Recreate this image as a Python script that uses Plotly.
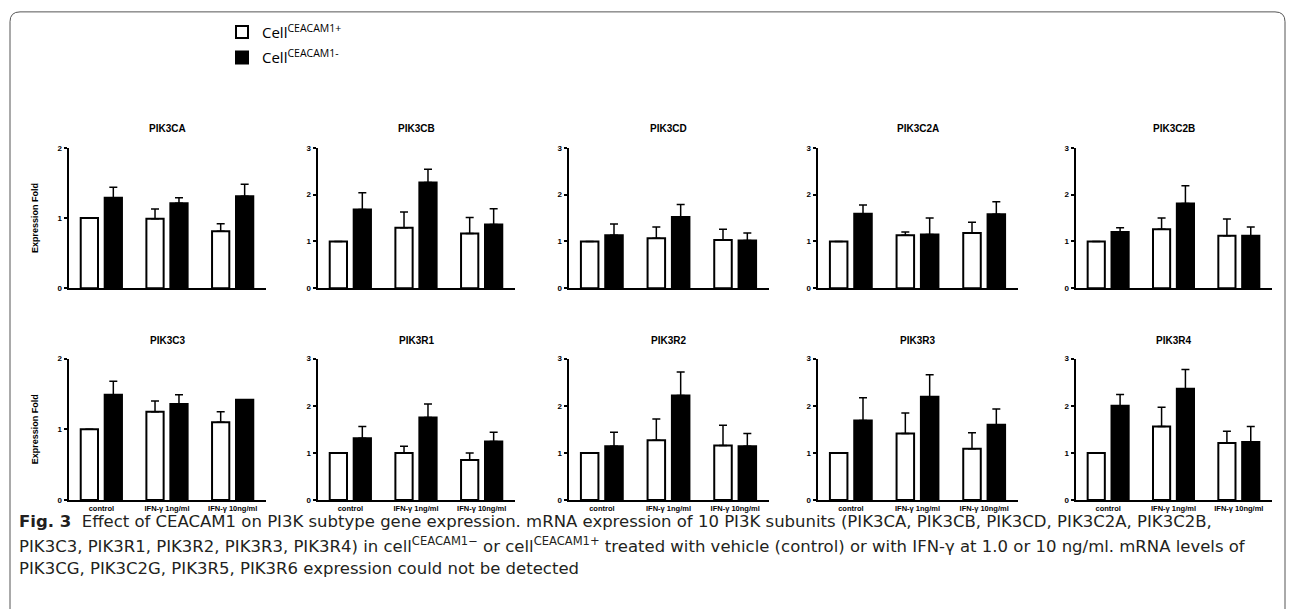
import plotly.graph_objects as go

W, H = 1295, 609

genes = ["PIK3CA", "PIK3CB", "PIK3CD", "PIK3C2A", "PIK3C2B",
         "PIK3C3", "PIK3R1", "PIK3R2", "PIK3R3", "PIK3R4"]
treatments = ["control", "IFN-γ 1ng/ml", "IFN-γ 10ng/ml"]
y_max = [2, 3, 3, 3, 3, 2, 3, 3, 3, 3]

# Cell CEACAM1+ (white bars)
pos_mean = [[1.00, 0.99, 0.81], [1.00, 1.29, 1.17], [1.00, 1.07, 1.03],
            [1.00, 1.13, 1.18], [1.00, 1.26, 1.12], [1.00, 1.25, 1.10],
            [1.00, 1.00, 0.85], [1.00, 1.27, 1.16], [1.00, 1.41, 1.09],
            [1.00, 1.56, 1.21]]
pos_sem = [[0, 0.14, 0.11], [0, 0.34, 0.34], [0, 0.24, 0.23],
           [0, 0.07, 0.23], [0, 0.24, 0.36], [0, 0.15, 0.15],
           [0, 0.14, 0.15], [0, 0.45, 0.43], [0, 0.44, 0.34],
           [0, 0.41, 0.25]]
# Cell CEACAM1- (black bars)
neg_mean = [[1.29, 1.21, 1.31], [1.68, 2.26, 1.36], [1.13, 1.52, 1.02],
            [1.59, 1.15, 1.58], [1.20, 1.81, 1.12], [1.49, 1.36, 1.42],
            [1.31, 1.75, 1.24], [1.14, 2.22, 1.14], [1.69, 2.19, 1.60],
            [2.00, 2.36, 1.23]]
neg_sem = [[0.15, 0.08, 0.17], [0.36, 0.28, 0.34], [0.24, 0.27, 0.16],
           [0.19, 0.35, 0.27], [0.09, 0.38, 0.19], [0.19, 0.13, 0.0],
           [0.25, 0.29, 0.20], [0.30, 0.50, 0.27], [0.48, 0.47, 0.33],
           [0.24, 0.41, 0.33]]

legend_names = ["Cell<sup>CEACAM1+</sup>", "Cell<sup>CEACAM1-</sup>"]

caption_lines = [
    "<b>Fig. 3</b>  Effect of CEACAM1 on PI3K subtype gene expression. mRNA expression of 10 PI3K subunits (PIK3CA, PIK3CB, PIK3CD, PIK3C2A, PIK3C2B,",
    "PIK3C3, PIK3R1, PIK3R2, PIK3R3, PIK3R4) in cell<sup>CEACAM1−</sup> or cell<sup>CEACAM1+</sup> treated with vehicle (control) or with IFN-γ at 1.0 or 10 ng/ml. mRNA levels of",
    "PIK3CG, PIK3C2G, PIK3R5, PIK3R6 expression could not be detected",
]

# layout geometry in pixels
col_x0 = [68.5, 317.5, 568.5, 817.5, 1075.5]
col_w = [197, 197, 200, 200, 196]
row_y = [(146, 288.5), (360, 503.5)]   # (top, bottom) px from top
title_y = [126, 342]

def fx(px):
    return px / W

def fy(py):
    return 1 - py / H

fig = go.Figure()
layout = {}
annotations = []
tickfont = dict(family="Arial", size=8, color="black", weight="bold")

for i, g in enumerate(genes):
    r, c = divmod(i, 5)
    ax = "" if i == 0 else str(i + 1)
    xa, ya = "x" + ax, "y" + ax
    fig.add_trace(go.Bar(
        x=treatments, y=pos_mean[i], xaxis=xa, yaxis=ya,
        name=legend_names[0], legendgroup="pos", showlegend=(i == 0),
        marker=dict(color="white", line=dict(color="black", width=2)),
        error_y=dict(type="data", symmetric=False, array=pos_sem[i],
                     arrayminus=[0, 0, 0], color="black", thickness=1.5, width=4),
    ))
    fig.add_trace(go.Bar(
        x=treatments, y=neg_mean[i], xaxis=xa, yaxis=ya,
        name=legend_names[1], legendgroup="neg", showlegend=(i == 0),
        marker=dict(color="black", line=dict(color="black", width=2)),
        error_y=dict(type="data", symmetric=False, array=neg_sem[i],
                     arrayminus=[0, 0, 0], color="black", thickness=1.5, width=4),
    ))
    x0 = col_x0[c]
    top, bot = row_y[r]
    layout["xaxis" + ax] = dict(
        domain=[fx(x0), fx(x0 + col_w[c])], anchor=ya,
        type="category", range=[-0.5, 2.5],
        showline=True, linecolor="black", linewidth=2,
        showgrid=False, zeroline=False, ticks="",
        showticklabels=(r == 1),
        tickfont=dict(family="Liberation Sans Narrow, Arial Narrow, Arial",
                      size=7.5, color="black", weight="bold"),
        fixedrange=True,
    )
    layout["yaxis" + ax] = dict(
        domain=[fy(bot), fy(top)], anchor=xa,
        range=[0, y_max[i]], tickvals=list(range(y_max[i] + 1)),
        showline=True, linecolor="black", linewidth=2,
        showgrid=False, zeroline=False,
        ticks="outside", ticklen=3, tickwidth=1.5, tickcolor="black",
        tickfont=tickfont, fixedrange=True,
    )
    annotations.append(dict(
        text="<b>%s</b>" % g, x=fx(x0 + col_w[c] / 2), y=fy(title_y[r]),
        xref="paper", yref="paper", showarrow=False,
        xanchor="center", yanchor="middle",
        font=dict(family="Arial", size=10, color="black"),
    ))
    if c == 0:
        annotations.append(dict(
            text="<b>Expression Fold</b>", x=fx(35), y=fy((top + bot) / 2),
            xref="paper", yref="paper", showarrow=False, textangle=-90,
            xanchor="center", yanchor="middle",
            font=dict(family="Arial", size=9, color="black"),
        ))

cap_y = [525, 549, 573]
for ln, yy in zip(caption_lines, cap_y):
    annotations.append(dict(
        text=ln, x=fx(17), y=fy(yy), xref="paper", yref="paper",
        showarrow=False, xanchor="left", yanchor="middle", align="left",
        font=dict(family="DejaVu Sans", size=16.5, color="#231f20"),
    ))

# rounded frame
r_ = 10
frame = (f"M {fx(10)} {fy(700)} L {fx(10)} {fy(8 + r_)} "
         f"Q {fx(10)} {fy(8)} {fx(10 + r_)} {fy(8)} "
         f"L {fx(1285 - r_)} {fy(8)} Q {fx(1285)} {fy(8)} {fx(1285)} {fy(8 + r_)} "
         f"L {fx(1285)} {fy(700)}")

fig.update_layout(
    width=W, height=H,
    margin=dict(l=0, r=0, t=0, b=0),
    paper_bgcolor="white", plot_bgcolor="white",
    barmode="group", bargap=0.27, bargroupgap=0.28,
    showlegend=True,
    legend=dict(x=fx(222), y=fy(12), xanchor="left", yanchor="top",
                font=dict(family="Open Sans", size=15, color="black"),
                bgcolor="rgba(0,0,0,0)", tracegroupgap=3, itemwidth=30),
    annotations=annotations,
    shapes=[dict(type="path", path=frame, xref="paper", yref="paper",
                 line=dict(color="#555555", width=1))],
    **layout,
)

fig.write_html("out.html", config={"displayModeBar": False},
               post_script="document.body.style.margin='0';")
